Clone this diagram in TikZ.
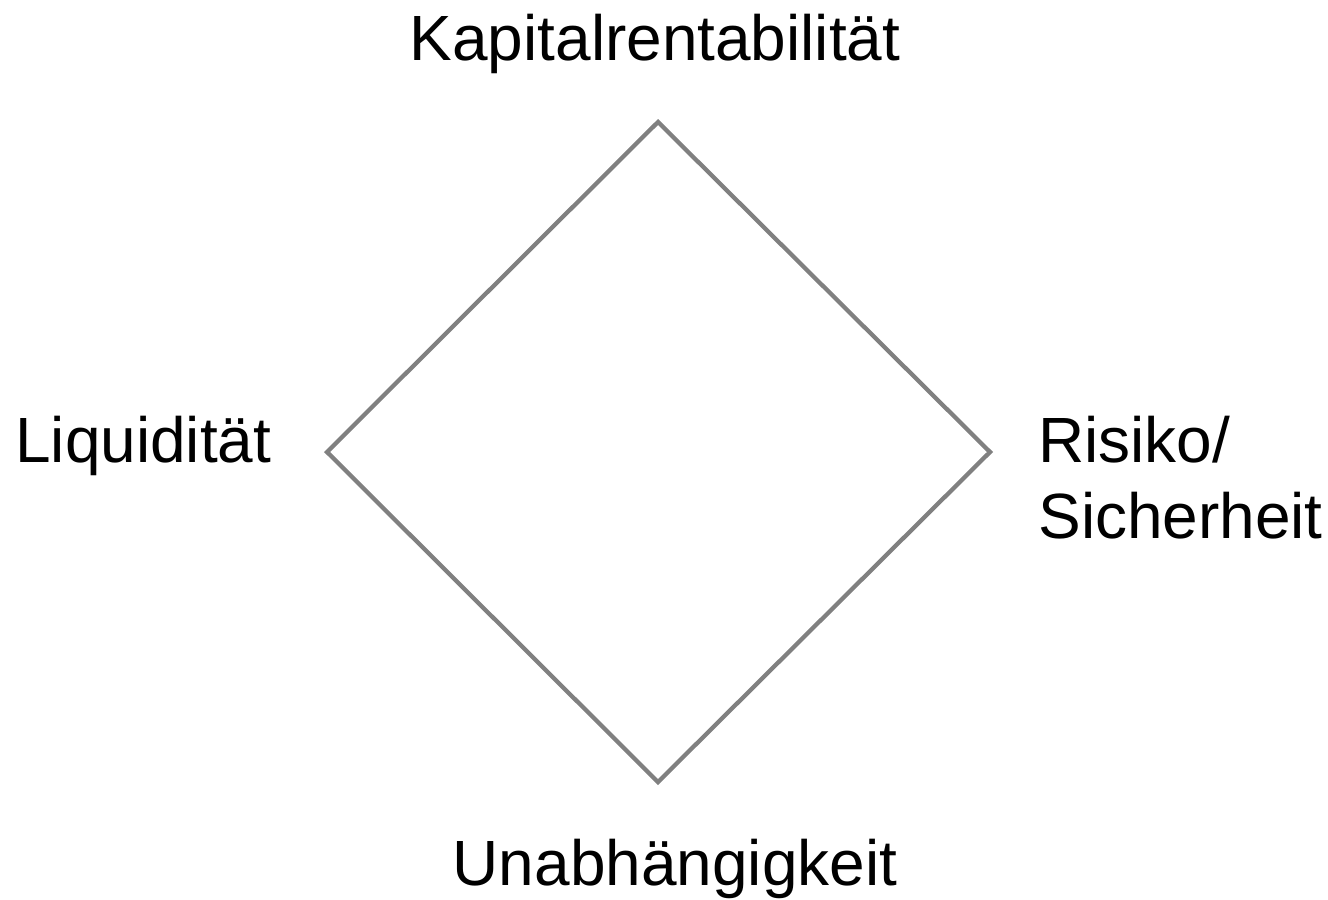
\documentclass[tikz,border=0pt]{standalone}
\usepackage{fontspec}
\setmainfont{Liberation Sans}
\usetikzlibrary{positioning}
\tikzstyle{pixelGrid} = [x = 0.02cm, y = -0.02cm]
\definecolor{diamondColor}{RGB}{128,128,128}
\tikzstyle{diamondLine} = [color=diamondColor, line width=0.085cm, line join=miter]
\tikzstyle{goalText} = [font=\fontsize{36.4pt}{43pt}\selectfont, inner sep=0pt, align=left]
\newcommand{\goalLabel}[4]{\node [goalText, anchor=#2] (#1) at #3 {#4};}

\begin{document}
\begin{tikzpicture}[pixelGrid]
          \useasboundingbox (0,0) rectangle (1328,899);
          % corners of the diamond
          \coordinate (top) at (658,122);
          \coordinate (right) at (990,452);
          \coordinate (bottom) at (658,782);
          \coordinate (left) at (327,452);
          \draw [diamondLine] (top) -- (right) -- (bottom) -- (left) -- cycle;

          \goalLabel{kapital}{base}{(655,60)}{Kapitalrentabilität}
          \goalLabel{liquid}{base west}{(15,462)}{Liquidität}
          % base of a two-line node sits on its last line
          \goalLabel{risiko}{base west}{(1038,538)}{Risiko/\\Sicherheit}
          \goalLabel{unabh}{base}{(675,885)}{Unabhängigkeit}
        \end{tikzpicture}
\end{document}
